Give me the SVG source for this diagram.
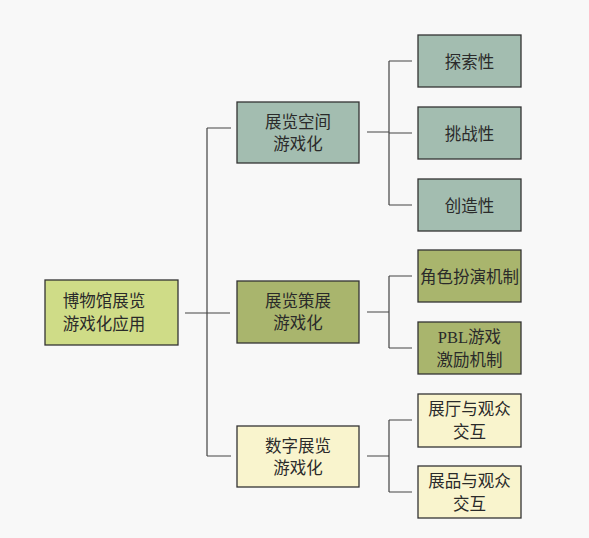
<svg xmlns="http://www.w3.org/2000/svg" width="589" height="538" viewBox="0 0 589 538">
<style>
.bx{stroke:#333;stroke-width:1.3}
.c1{fill:#cfdc87}.c2{fill:#a3bdb0}.c3{fill:#a9b56d}.c4{fill:#f9f4cd}
text{font-family:"Liberation Serif","Noto Sans CJK SC",serif;font-size:16.5px;fill:#2a2a2a;text-anchor:middle;dominant-baseline:central}
.ln{stroke:#444;stroke-width:1.2;fill:none}
</style>
<rect width="589" height="538" fill="#f8f8f8"/>
<g id="connectors">
<path class="ln" d="M185 313H230M207 128V456M207 128H231M207 456H231"/>
<path class="ln" d="M367 132H389M389 61V205M389 61H412M389 133H412M389 205H412"/>
<path class="ln" d="M367 312H389M389 276V348M389 276H412M389 348H412"/>
<path class="ln" d="M367 456H389M389 420V492M389 420H412M389 492H412"/>
</g>
<g id="root"><rect class="bx c1" x="45" y="280" width="133" height="65"/><text x="104" y="301">博物馆展览</text><text x="104" y="324">游戏化应用</text></g>
<g id="m1"><rect class="bx c2" x="237" y="102" width="122" height="61"/><text x="298" y="122">展览空间</text><text x="298" y="144">游戏化</text></g>
<g id="m2"><rect class="bx c3" x="237" y="281" width="122" height="62"/><text x="298" y="301">展览策展</text><text x="298" y="323">游戏化</text></g>
<g id="m3"><rect class="bx c4" x="237" y="426" width="122" height="61"/><text x="298" y="446">数字展览</text><text x="298" y="468">游戏化</text></g>
<g id="l1"><rect class="bx c2" x="418" y="35" width="103" height="52"/><text x="469.5" y="62">探索性</text></g>
<g id="l2"><rect class="bx c2" x="418" y="107" width="103" height="52"/><text x="469.5" y="134">挑战性</text></g>
<g id="l3"><rect class="bx c2" x="418" y="179" width="103" height="52"/><text x="469.5" y="206">创造性</text></g>
<g id="l4"><rect class="bx c3" x="418" y="250" width="103" height="52"/><text x="469.5" y="277">角色扮演机制</text></g>
<g id="l5"><rect class="bx c3" x="418" y="322" width="103" height="52"/><text x="469.5" y="337">PBL游戏</text><text x="469.5" y="360">激励机制</text></g>
<g id="l6"><rect class="bx c4" x="418" y="394" width="103" height="53"/><text x="469.5" y="409">展厅与观众</text><text x="469.5" y="432">交互</text></g>
<g id="l7"><rect class="bx c4" x="418" y="466" width="103" height="52"/><text x="469.5" y="481">展品与观众</text><text x="469.5" y="504">交互</text></g>
</svg>
